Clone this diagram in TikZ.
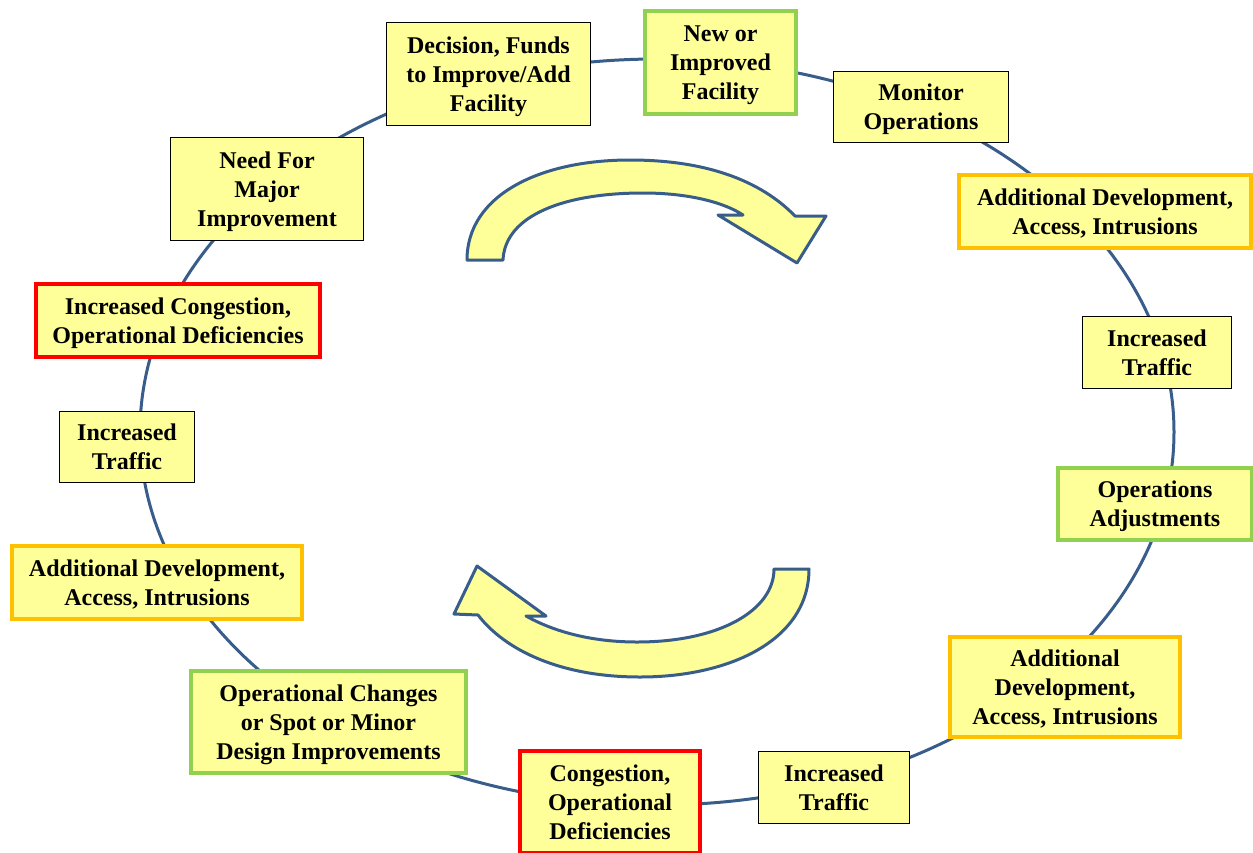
\documentclass[tikz,border=0pt]{standalone}
\usepackage{fontspec}
\setmainfont{Liberation Serif}
\definecolor{ringblue}{RGB}{56,93,138}
\definecolor{boxfill}{RGB}{255,255,153}
\definecolor{gborder}{RGB}{146,208,80}
\definecolor{oborder}{RGB}{255,192,0}
\definecolor{rborder}{RGB}{255,0,0}
\tikzset{
  box/.style={draw=black, line width=1.3pt, fill=boxfill, inner sep=0pt, align=center,
    font=\fontsize{24}{29}\selectfont\bfseries},
  gbox/.style={box, draw=gborder, line width=4.5pt},
  obox/.style={box, draw=oborder, line width=4.5pt},
  rbox/.style={box, draw=rborder, line width=4.5pt},
  twolines/.style={text height=47pt, text depth=2pt},
  threelines/.style={text height=76pt, text depth=2pt},
  ring/.style={draw=ringblue, line width=3pt},
  bigarrow/.style={draw=ringblue, fill=boxfill, line width=3pt, line join=round}
}
\begin{document}
\begin{tikzpicture}[x=1pt,y=-1pt]
\useasboundingbox (0,0) rectangle (1253,852);
% cycle ring
\draw[ring] (657,432) ellipse [x radius=517, y radius=373];
% top curved arrow
\draw[bigarrow] (467,260) .. controls (467,195) and (540,160) .. (630,160)
  .. controls (705,160) and (760,180) .. (795,216)
  -- (826,216) -- (797,263) -- (718,215) -- (743,215)
  .. controls (725,203) and (690,193) .. (643,193)
  .. controls (565,193) and (505,215) .. (503,260) -- cycle;
% bottom curved arrow
\draw[bigarrow] (809,569) .. controls (809,640) and (730,677) .. (640,677)
  .. controls (560,677) and (505,650) .. (478,615)
  -- (454,614) -- (477,566) -- (546,616) -- (526,616)
  .. controls (560,635) and (600,642) .. (637,642)
  .. controls (720,642) and (774,610) .. (774,569) -- cycle;
% boxes
\node[box, threelines, minimum width=204, minimum height=103] (dec) at (488.5,74) {Decision, Funds\\to Improve/Add\\Facility};
\node[gbox, threelines, minimum width=151, minimum height=103] (new) at (720.5,62.5) {New or\\Improved\\Facility};
\node[box, twolines, minimum width=175, minimum height=71] (mon) at (921,107) {Monitor\\Operations};
\node[obox, twolines, minimum width=292, minimum height=73] (add1) at (1105,211.5) {Additional Development,\\Access, Intrusions};
\node[box, twolines, minimum width=149, minimum height=72] (tr1) at (1157,352.5) {Increased\\Traffic};
\node[gbox, twolines, minimum width=194, minimum height=72] (opa) at (1155,504) {Operations\\Adjustments};
\node[obox, threelines, minimum width=230, minimum height=100] (add2) at (1065,687) {Additional\\Development,\\Access, Intrusions};
\node[box, twolines, minimum width=151, minimum height=72] (tr2) at (834,787.5) {Increased\\Traffic};
\node[rbox, threelines, minimum width=180, minimum height=102] (con) at (610,802) {Congestion,\\Operational\\Deficiencies};
\node[gbox, threelines, minimum width=275, minimum height=102] (opc) at (328.5,722) {Operational Changes\\or Spot or Minor\\Design Improvements};
\node[obox, twolines, minimum width=290, minimum height=73] (add3) at (157,582.5) {Additional Development,\\Access, Intrusions};
\node[box, twolines, minimum width=135, minimum height=71] (tr3) at (127,447) {Increased\\Traffic};
\node[rbox, twolines, minimum width=284, minimum height=73] (icd) at (178,320.5) {Increased Congestion,\\Operational Deficiencies};
\node[box, threelines, minimum width=193, minimum height=103] (need) at (267,189) {Need For\\Major\\Improvement};
\end{tikzpicture}
\end{document}
